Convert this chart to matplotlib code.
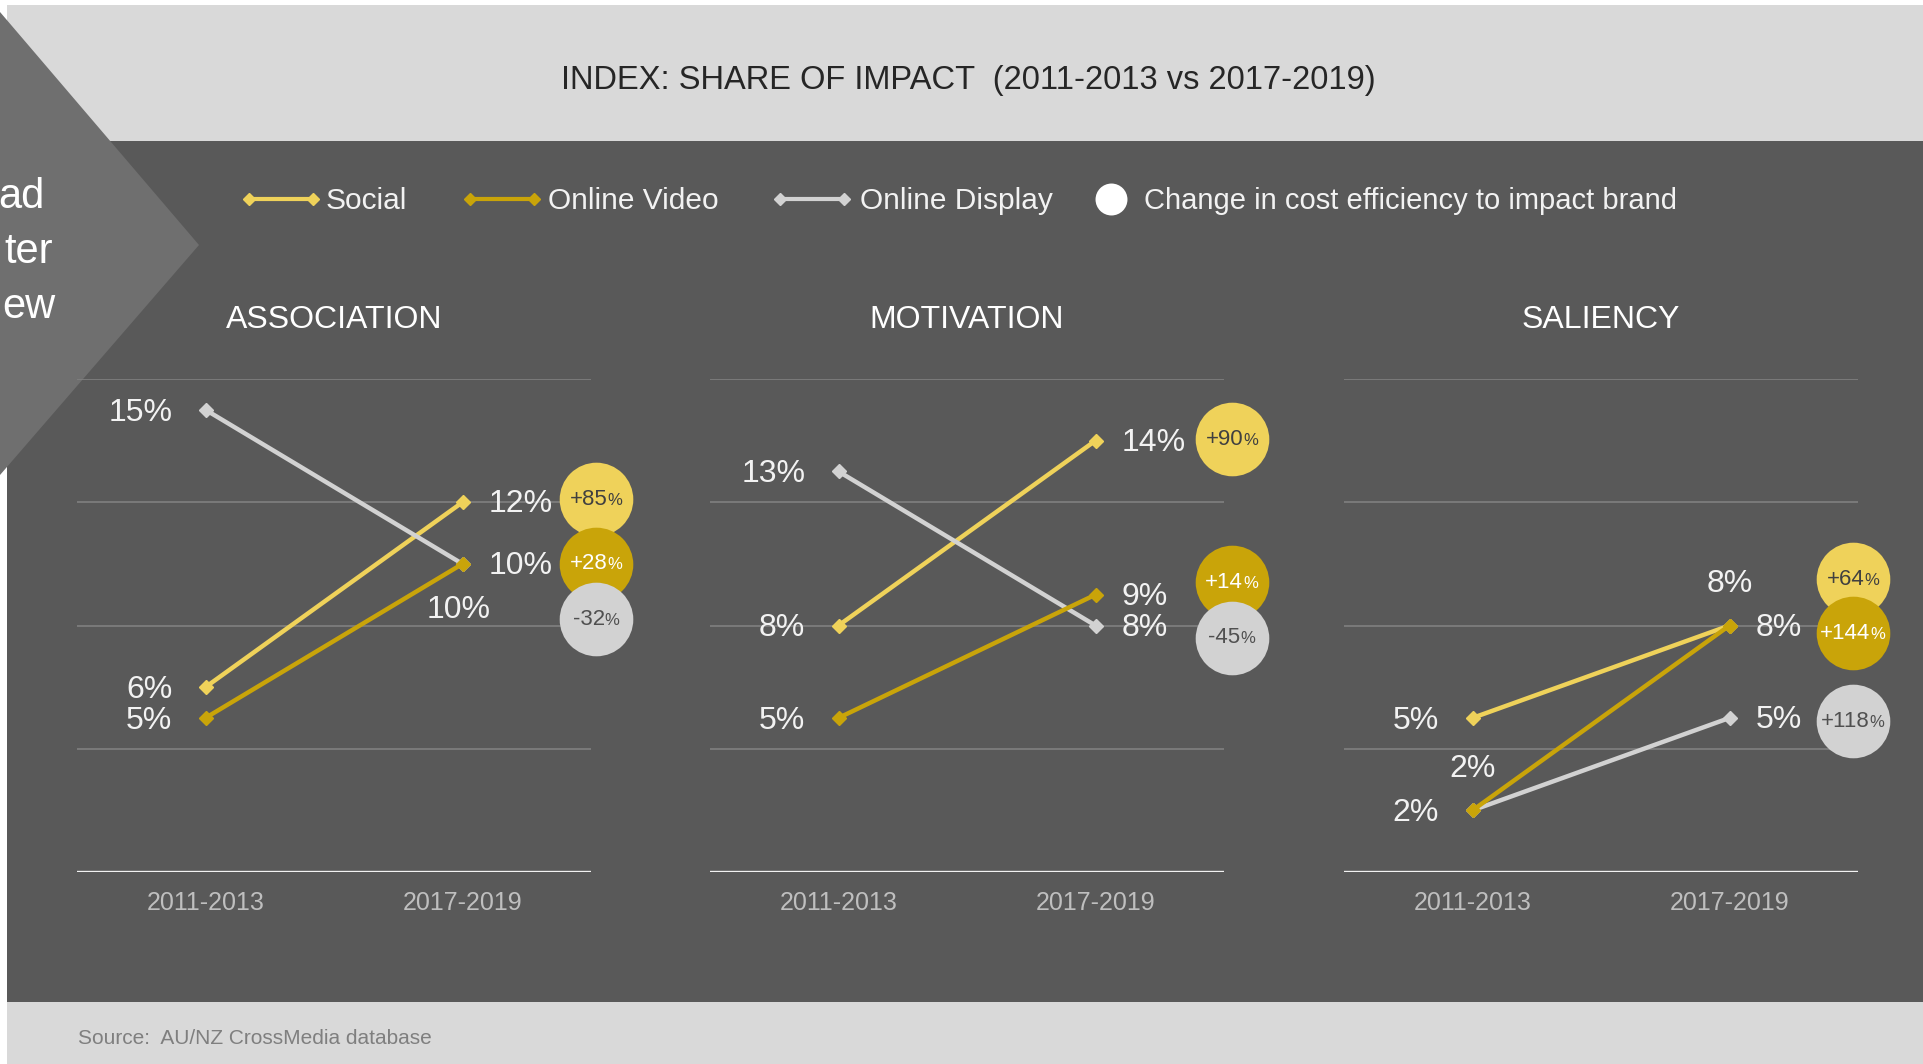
import matplotlib
matplotlib.use("Agg")
import matplotlib.pyplot as plt
from matplotlib.patches import Rectangle, Polygon
from matplotlib.offsetbox import TextArea, HPacker, AnnotationBbox

# share of impact per period
periods = ["2011-2013", "2017-2019"]
metrics = ["ASSOCIATION", "MOTIVATION", "SALIENCY"]
channels = ["Social", "Online Video", "Online Display"]

social = [[6, 12], [8, 14], [5, 8]]
video = [[5, 10], [5, 9], [2, 8]]
display = [[15, 10], [13, 8], [2, 5]]

# change in cost efficiency to impact brand (%)
change_social = [85, 90, 64]
change_video = [28, 14, 144]
change_display = [-32, -45, 118]

colors = ["#efd25a", "#c9a409", "#d2d2d2"]
bubble_text = ["#404040", "#ffffff", "#505050"]

# bubbles are nudged so they don't sit on top of each other
bubble_x = [1.52, 1.53, 1.48]
bubble_y = [[12.1, 10.0, 8.2], [14.05, 9.4, 7.6], [9.5, 7.75, 4.9]]
# which side of each point its value goes: l/r/a(bove)/b(elow)
label_side = [
    [("l", "r"), ("l", "r"), ("l", "b")],
    [("l", "r"), ("l", "r"), ("l", "r")],
    [("l", "a"), ("l", "r"), ("a", "r")],
]
offsets = {"l": ((-24, -2), "right"), "r": ((19, -1.5), "left"),
           "a": ((0, 30), "center"), "b": ((-3, -33), "center")}

FONT = ["Liberation Sans", "DejaVu Sans"]

W, H = 1923, 1064
fig = plt.figure(figsize=(W / 100, H / 100), dpi=100)
fig.patch.set_facecolor("white")

bg = fig.add_axes([0, 0, 1, 1])
bg.set_xlim(0, W)
bg.set_ylim(H, 0)
bg.axis("off")
bg.add_patch(Rectangle((7, 5), W - 7, 136, color="#d9d9d9", lw=0))
bg.add_patch(Rectangle((7, 141), W - 7, 861, color="#595959", lw=0))
bg.add_patch(Rectangle((7, 1002), W - 7, 62, color="#d9d9d9", lw=0))
bg.add_patch(Polygon([(0, 12), (199, 245), (0, 475)], closed=True,
                     color="#6f6f6f", lw=0))
for txt, x, y in [("ad", 44, 197), ("ter", 53, 252), ("ew", 55, 307)]:
    bg.text(x, y, txt, ha="right", va="center", fontsize=30,
            color="white", family=FONT)

bg.text(968, 80, "INDEX: SHARE OF IMPACT  (2011-2013 vs 2017-2019)",
        ha="center", va="center", fontsize=23.5, color="#262626", family=FONT)

# legend
leg = [(249, 326), (470, 548), (780, 860)]
for (x0, tx), name, c in zip(leg, channels, colors):
    bg.plot([x0, x0 + 64], [199, 199], color=c, lw=3, marker="D", ms=6)
    bg.text(tx, 201, name, ha="left", va="center", fontsize=21.5,
            color="#f2f2f2", family=FONT)
bg.plot(1111, 199, "o", ms=23, color="white", mec="none")
bg.text(1144, 201, "Change in cost efficiency to impact brand", ha="left",
        va="center", fontsize=21, color="#f2f2f2", family=FONT)

bg.text(78, 1038, "Source:  AU/NZ CrossMedia database", ha="left",
        va="center", fontsize=15, color="#7f7f7f", family=FONT)

lefts = [77, 710, 1344]
for i, left in enumerate(lefts):
    ax = fig.add_axes([left / W, 1 - 872 / H, 514 / W, 493 / H])
    ax.patch.set_alpha(0)
    ax.set_xlim(-0.5, 1.5)
    ax.set_ylim(0, 16)
    for s in ax.spines.values():
        s.set_visible(False)
    ax.set_yticks([])
    ax.set_xticks([0, 1])
    ax.set_xticklabels(periods, color="#bfbfbf", fontsize=18, family=FONT)
    ax.tick_params(axis="x", length=0, pad=14)
    for g in [4, 8, 12, 16]:
        ax.axhline(g, color="#808080", lw=1.2, zorder=1)
    ax.axhline(0, color="#f2f2f2", lw=2.4, zorder=1)

    ax.text(0.5, 1.12, metrics[i], transform=ax.transAxes, ha="center",
            va="center", fontsize=23, color="white", family=FONT)

    series = [social[i], video[i], display[i]]
    changes = [change_social[i], change_video[i], change_display[i]]
    for k in [0, 2, 1]:
        ax.plot([0, 1], series[k], color=colors[k], lw=3.2, marker="D", ms=7,
                clip_on=False, zorder=3)
    for k in range(3):
        for j in range(2):
            (dx, dy), ha = offsets[label_side[i][k][j]]
            ax.annotate(f"{series[k][j]}%", (j, series[k][j]),
                        xytext=(dx, dy), textcoords="offset points",
                        ha=ha, va="center", fontsize=23, color="#f2f2f2",
                        family=FONT, zorder=4, annotation_clip=False)

    for k in range(3):
        ax.plot(bubble_x[i], bubble_y[i][k], "o", ms=53, color=colors[k],
                mec="none", clip_on=False, zorder=5)
        box = HPacker(children=[
            TextArea(f"{changes[k]:+d}", textprops=dict(
                fontsize=16, color=bubble_text[k], family=FONT)),
            TextArea("%", textprops=dict(
                fontsize=12, color=bubble_text[k], family=FONT)),
        ], align="baseline", pad=0, sep=0)
        ab = AnnotationBbox(box, (bubble_x[i], bubble_y[i][k]),
                            frameon=False, box_alignment=(0.5, 0.5),
                            annotation_clip=False, zorder=6)
        ax.add_artist(ab)

fig.savefig("out.png", dpi=100)
